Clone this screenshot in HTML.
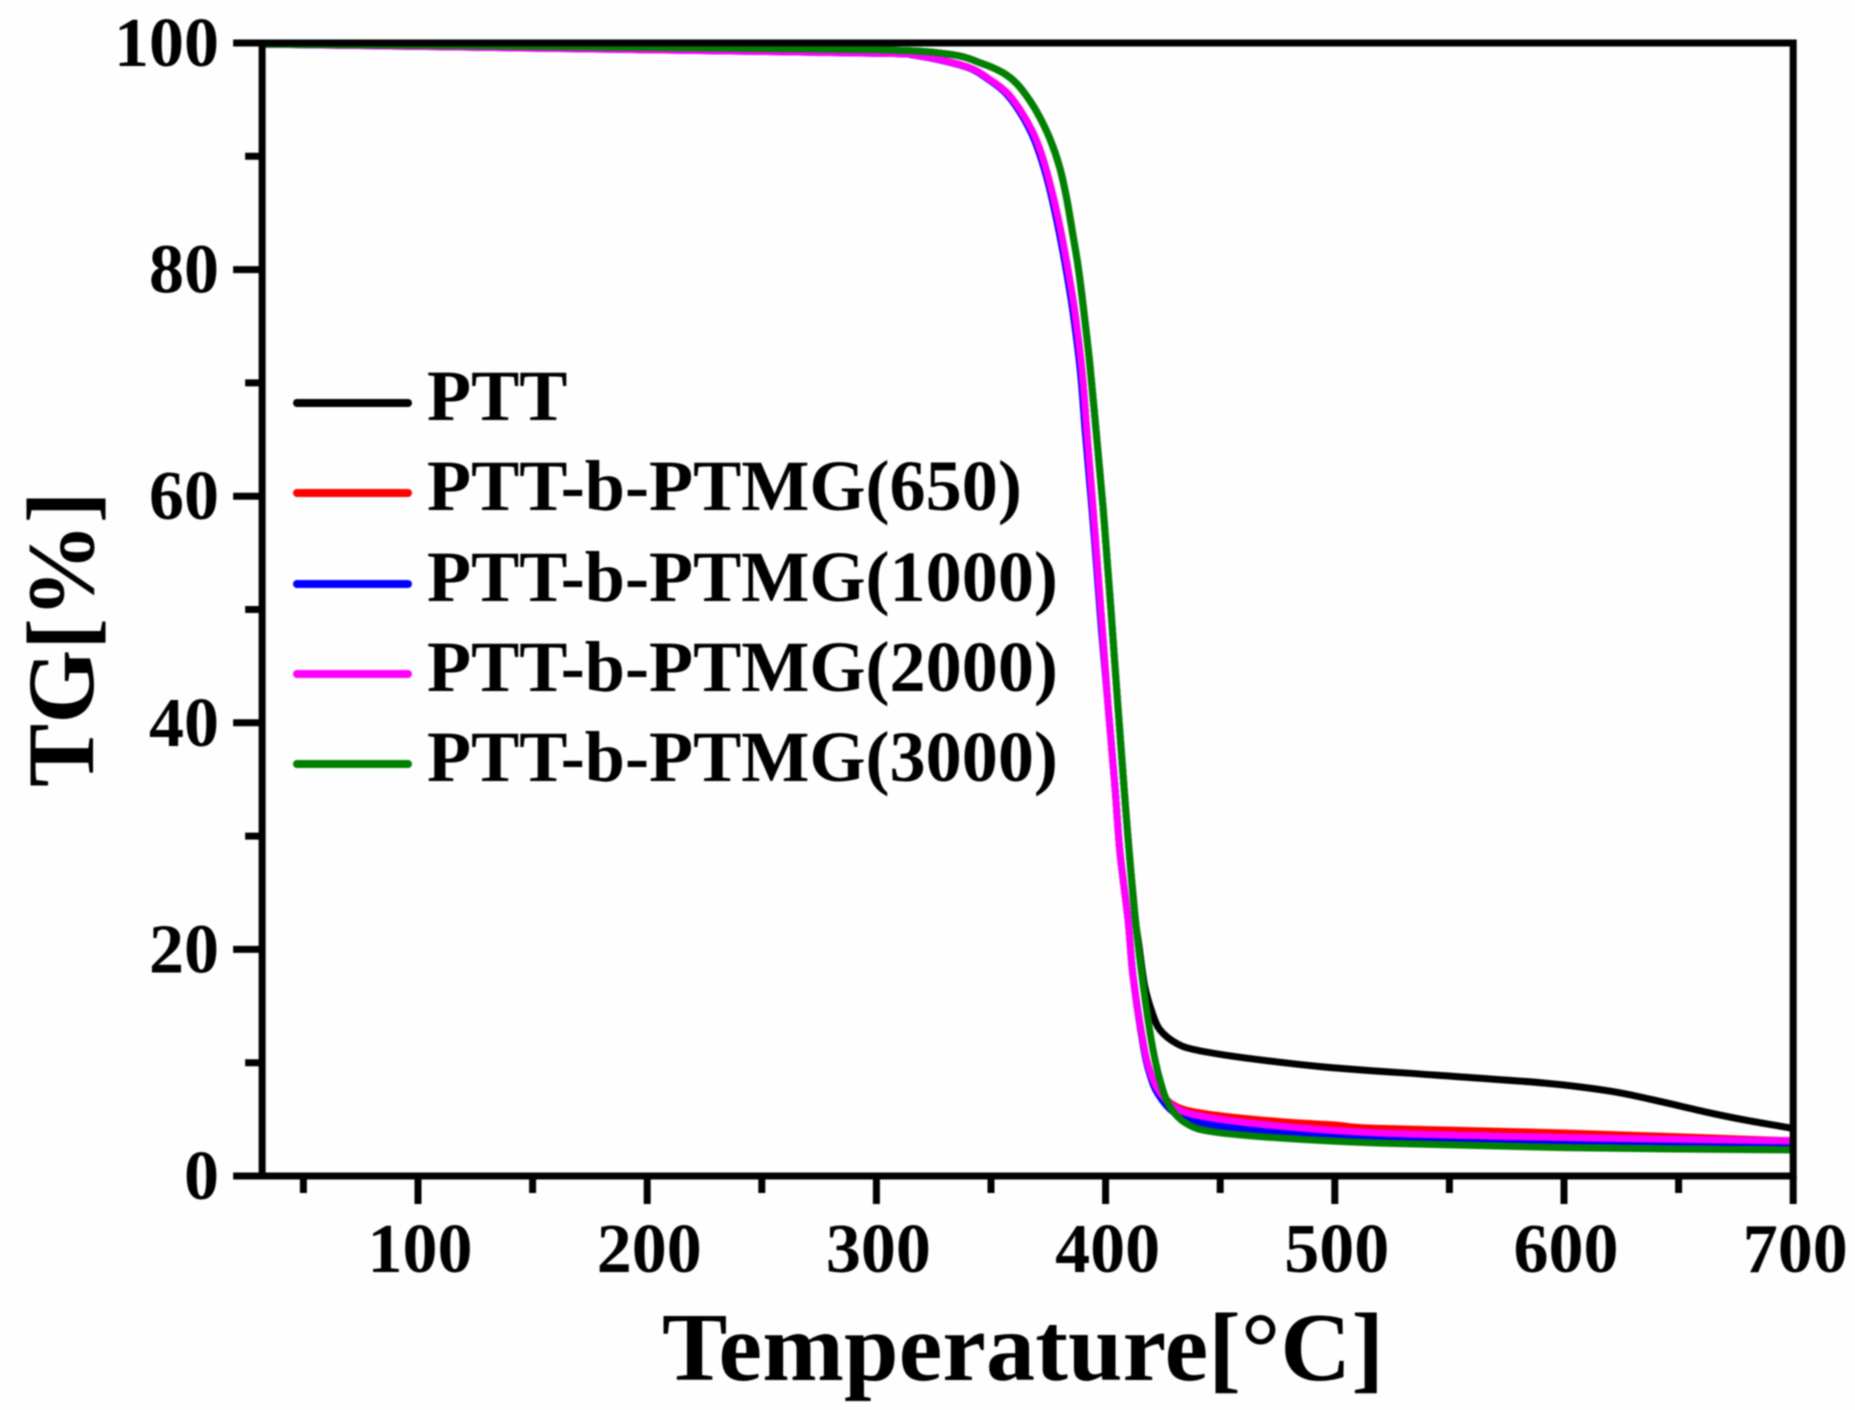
<!DOCTYPE html>
<html lang="en">
<head>
<meta charset="utf-8">
<title>TG curves of PTT and PTT-b-PTMG</title>
<style>
  html, body { margin: 0; padding: 0; background: #fefefe; }
  svg { display: block; filter: blur(0.7px); }
  text { font-family: "Liberation Serif", serif; font-weight: bold; fill: #000; }
</style>
</head>
<body>
<svg id="chart" xmlns="http://www.w3.org/2000/svg" width="1855" height="1410" viewBox="0 0 1855 1410">
  <rect x="0" y="0" width="1855" height="1410" fill="#fefefe"/>
  <g id="curves"></g>
  <g id="axes"></g>
  <g id="legend"></g>
  <text x="662" y="1380" font-size="98" textLength="722" lengthAdjust="spacing">Temperature[°C]</text>
  <text transform="translate(93,787) rotate(-90)" font-size="95">TG[%]</text>
</svg>
<script>
const xTickLabels = [100, 200, 300, 400, 500, 600, 700];
const xMinorTicks = [50, 150, 250, 350, 450, 550, 650];
const yTickLabels = [0, 20, 40, 60, 80, 100];
const yMinorTicks = [10, 30, 50, 70, 90];
const legendLabels = ["PTT", "PTT-b-PTMG(650)", "PTT-b-PTMG(1000)", "PTT-b-PTMG(2000)", "PTT-b-PTMG(3000)"];
const seriesColors = ["#000000", "#ff0000", "#0000ff", "#ff00ff", "#008000"];

const tempPTT = [32, 100, 200, 300, 332, 346, 355, 361.3, 367, 371.4, 376, 380, 383, 385.8, 388, 390.1, 393.2, 396.2, 398.9, 401, 402.4, 405, 407.6, 409.8, 412.8, 414.5, 417, 420.2, 423.7, 431, 440, 461.7, 496.6, 544.2, 591.7, 620, 639.3, 663, 680, 700];
const tgPTT = [99.9, 99.8, 99.6, 99.4, 99.0, 98.2, 97.4, 96.4, 94.9, 93.4, 91.4, 89, 86.3, 83, 80.3, 77, 71.5, 65, 59, 53.5, 49.8, 42.5, 35.5, 29.8, 23, 20.4, 16.8, 14.5, 12.9, 11.7, 11.1, 10.4, 9.6, 8.9, 8.2, 7.5, 6.7, 5.6, 4.9, 4.2];

const temp650 = [32, 100, 200, 300, 317.7, 339.5, 350, 357, 363, 368.3, 372, 375.7, 379, 381.4, 384, 386.6, 389.7, 391.9, 394.5, 396.4, 398.6, 401, 404.1, 406.3, 409.8, 412, 416.3, 419, 422.9, 431.2, 446.9, 476.1, 500, 519.7, 600, 700];
const tg650 = [99.9, 99.7, 99.4, 99.1, 98.9, 97.9, 96.7, 95.6, 94, 92.1, 90.2, 87.6, 84.8, 82.4, 79.5, 76.2, 71, 65.5, 59, 54, 48.2, 41.7, 34.3, 28.5, 22.6, 17.6, 11.7, 9.4, 7.6, 6.1, 5.4, 4.8, 4.5, 4.2, 3.8, 3.1];

const temp1000 = [32, 100, 200, 300, 317, 339, 349.5, 356.3, 362.3, 367.5, 371.2, 375, 378.2, 380.6, 383.2, 385.8, 389, 391.2, 394, 396, 398.2, 401, 404.1, 406.3, 409.8, 412, 416.3, 419, 423, 431.5, 446.9, 476.1, 519.7, 600, 700];
const tg1000 = [99.9, 99.7, 99.4, 99.1, 98.9, 97.9, 96.7, 95.6, 94, 92.1, 90.2, 87.6, 84.8, 82.4, 79.5, 76.2, 71, 65.5, 59, 54, 48.2, 41.7, 34.3, 28.5, 22.6, 17.6, 11.7, 9.2, 7.2, 5.4, 4.5, 3.9, 3.4, 3.1, 2.9];

const temp2000 = [32, 100, 200, 300, 317.7, 339.5, 350, 357, 363, 368.3, 372, 375.7, 379, 381.4, 384, 386.6, 389.7, 391.9, 394.5, 396.4, 398.6, 401, 404.1, 406.3, 409.8, 412, 416.5, 419.3, 423.3, 431.5, 446.9, 476.1, 519.7, 600, 700];
const tg2000 = [99.9, 99.7, 99.4, 99.1, 98.9, 97.9, 96.7, 95.6, 94, 92.1, 90.2, 87.6, 84.8, 82.4, 79.5, 76.2, 71, 65.5, 59, 54, 48.2, 41.7, 34.3, 28.5, 22.6, 17.6, 11.7, 9.3, 7.5, 5.9, 5.1, 4.4, 3.8, 3.4, 3.1];

const temp3000 = [32, 100, 200, 300, 332, 346, 355, 361.3, 367, 371.4, 376, 380, 383, 385.8, 388, 390.1, 393.2, 396.2, 398.9, 401, 402.4, 405, 407.6, 409.8, 412.8, 416.3, 420.2, 423.7, 428.1, 435.5, 446.9, 476.1, 519.7, 600, 700];
const tg3000 = [99.9, 99.8, 99.6, 99.4, 99.0, 98.2, 97.4, 96.4, 94.9, 93.4, 91.4, 89, 86.3, 83, 80.3, 77, 71.5, 65, 59, 53.5, 49.8, 42.5, 35.5, 29.8, 23, 17, 11.7, 8.5, 6.1, 4.6, 3.9, 3.35, 2.9, 2.5, 2.3];

const seriesTemps = [tempPTT, temp650, temp1000, temp2000, temp3000];
const seriesValues = [tgPTT, tg650, tg1000, tg2000, tg3000];

const NS = "http://www.w3.org/2000/svg";
function xScale(t) { return 418 + (t - 100) * 2.292; }
function yScale(v) { return 1176 - v * 11.33; }
const xMinValue = 32;
const xMaxValue = 700;
const yMaxValue = 100;

function make(tag, attrs, parent) {
  const el = document.createElementNS(NS, tag);
  for (const k in attrs) el.setAttribute(k, attrs[k]);
  parent.appendChild(el);
  return el;
}

function smoothPath(temps, values) {
  const p = temps.map((t, i) => [xScale(t), yScale(values[i])]);
  let d = "M" + p[0][0].toFixed(2) + " " + p[0][1].toFixed(2);
  for (let i = 0; i < p.length - 1; i++) {
    const a = p[Math.max(i - 1, 0)], b = p[i], c = p[i + 1], e = p[Math.min(i + 2, p.length - 1)];
    const c1x = b[0] + (c[0] - a[0]) / 6, c1y = b[1] + (c[1] - a[1]) / 6;
    const c2x = c[0] - (e[0] - b[0]) / 6, c2y = c[1] - (e[1] - b[1]) / 6;
    d += "C" + c1x.toFixed(2) + " " + c1y.toFixed(2) + " " + c2x.toFixed(2) + " " + c2y.toFixed(2) + " " + c[0].toFixed(2) + " " + c[1].toFixed(2);
  }
  return d;
}

const curves = document.getElementById("curves");
seriesValues.forEach((vals, i) => {
  const path = make("path", { d: smoothPath(seriesTemps[i], vals), fill: "none", stroke: seriesColors[i], "stroke-width": 7, "stroke-linejoin": "round" }, curves);
  
  
});

const axes = document.getElementById("axes");
const frameLeft = xScale(xMinValue), frameRight = xScale(xMaxValue), frameTop = yScale(yMaxValue), frameBottom = yScale(0);
const frame = make("rect", { x: frameLeft, y: frameTop, width: frameRight - frameLeft, height: frameBottom - frameTop, fill: "none", stroke: "#000", "stroke-width": 7 }, axes);



xTickLabels.forEach(t => {
  const tick = make("line", { x1: xScale(t), x2: xScale(t), y1: frameBottom, y2: frameBottom + 28, stroke: "#000", "stroke-width": 7 }, axes);
  
  
  const label = make("text", { x: xScale(t) + 2, y: 1272, "font-size": 70, "text-anchor": "middle" }, axes);
  label.textContent = t;
  
  
});
xMinorTicks.forEach(t => {
  const tick = make("line", { x1: xScale(t), x2: xScale(t), y1: frameBottom, y2: frameBottom + 17, stroke: "#000", "stroke-width": 7 }, axes);
  
  
});
yTickLabels.forEach(v => {
  const tick = make("line", { x1: frameLeft - 29, x2: frameLeft, y1: yScale(v), y2: yScale(v), stroke: "#000", "stroke-width": 7 }, axes);
  
  
  const label = make("text", { x: 219, y: yScale(v) + 23, "font-size": 70, "text-anchor": "end" }, axes);
  label.textContent = v;
  
  
});
yMinorTicks.forEach(v => {
  const tick = make("line", { x1: frameLeft - 17, x2: frameLeft, y1: yScale(v), y2: yScale(v), stroke: "#000", "stroke-width": 7 }, axes);
  
  
});

const legend = document.getElementById("legend");
const legendLineY = [403, 493, 584, 674, 764];
legendLabels.forEach((name, i) => {
  const swatch = make("line", { x1: 297, x2: 408, y1: legendLineY[i], y2: legendLineY[i], stroke: seriesColors[i], "stroke-width": 8, "stroke-linecap": "round" }, legend);
  
  
  const label = make("text", { x: 427, y: legendLineY[i] + 17, "font-size": 72.2 }, legend);
  label.textContent = name;
  
  
});
</script>
</body>
</html>
